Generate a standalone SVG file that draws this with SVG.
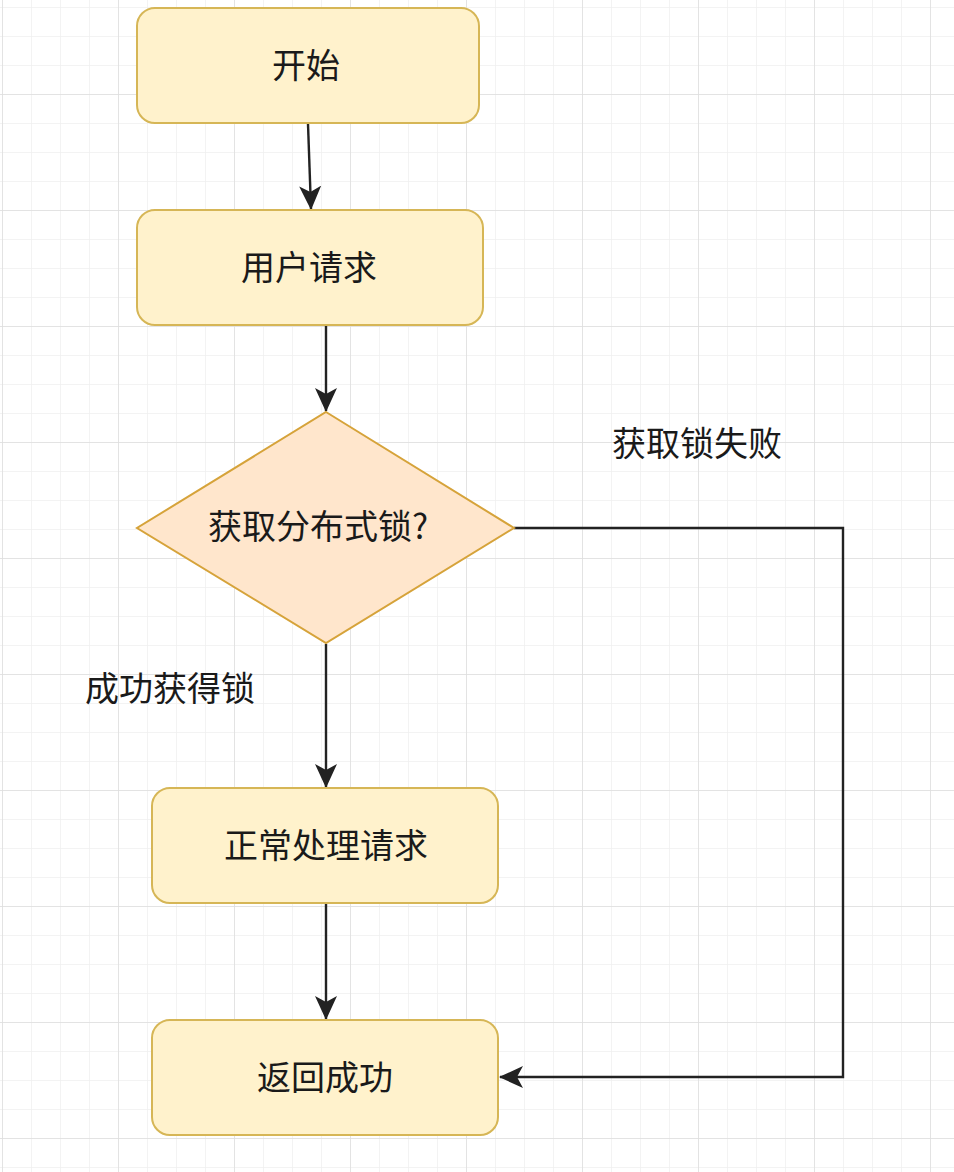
<svg xmlns="http://www.w3.org/2000/svg" width="954" height="1172" viewBox="0 0 954 1172">
<style>
.box{fill:#fff2cc;stroke:#d6b656;stroke-width:2}
.dia{fill:#ffe6cc;stroke:#d6a33a;stroke-width:2}
.t{font-family:"Noto Sans CJK SC","Noto Sans",sans-serif;font-size:34px;fill:#1a1a1a;text-anchor:middle;dominant-baseline:central}
.e{fill:none;stroke:#222;stroke-width:2.4}
</style>
<defs>
<pattern id="minor" x="2" y="-22" width="29" height="29" patternUnits="userSpaceOnUse">
<path d="M0 0H29M0 0V29" fill="none" stroke="#efefef" stroke-width="1.5"/>
</pattern>
<pattern id="major" x="2" y="-22" width="116" height="116" patternUnits="userSpaceOnUse">
<path d="M0 0H116M0 0V116" fill="none" stroke="#dedede" stroke-width="1.5"/>
</pattern>
<marker id="arr" viewBox="0 0 24 24" refX="23" refY="12" markerWidth="24" markerHeight="24" markerUnits="userSpaceOnUse" orient="auto">
<path d="M0 1L24 12L0 23L6 12Z" fill="#222"/>
</marker>
</defs>
<rect width="954" height="1172" fill="#fff"/>
<rect width="954" height="1172" fill="url(#minor)"/>
<rect width="954" height="1172" fill="url(#major)"/>
<g id="connectors">
<path class="e" d="M308 124L311 209" marker-end="url(#arr)"/>
<path class="e" d="M326 326V411" marker-end="url(#arr)"/>
<path class="e" d="M326 644V787" marker-end="url(#arr)"/>
<path class="e" d="M326 904V1019" marker-end="url(#arr)"/>
<path class="e" d="M514 528H843V1077H500" marker-end="url(#arr)"/>
<text class="t" x="697" y="441">获取锁失败</text>
<text class="t" x="170" y="686">成功获得锁</text>
</g>
<g id="start">
<rect class="box" x="137" y="8" width="342" height="115" rx="18"/>
<text class="t" x="306" y="63">开始</text>
</g>
<g id="request">
<rect class="box" x="137" y="210" width="346" height="115" rx="18"/>
<text class="t" x="309" y="265">用户请求</text>
</g>
<g id="decision">
<path class="dia" d="M326 412L514 528L326 643L137 528Z"/>
<text class="t" x="318" y="524">获取分布式锁?</text>
</g>
<g id="process">
<rect class="box" x="152" y="788" width="346" height="115" rx="18"/>
<text class="t" x="326" y="843">正常处理请求</text>
</g>
<g id="success">
<rect class="box" x="152" y="1020" width="346" height="115" rx="18"/>
<text class="t" x="325" y="1075">返回成功</text>
</g>
</svg>
